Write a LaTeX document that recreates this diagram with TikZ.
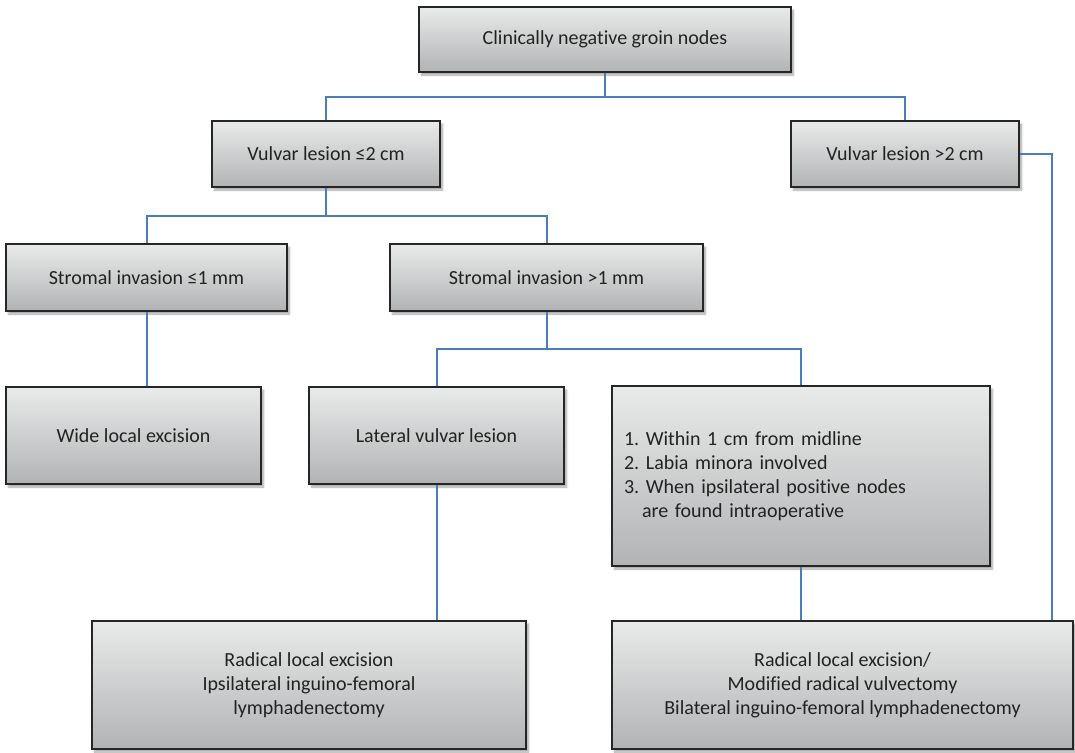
\documentclass[tikz,border=0pt]{standalone}
\usepackage{fontspec}
\setmainfont{Carlito}[Ligatures={NoCommon}]
\usetikzlibrary{shadows.blur}
\definecolor{linkblue}{HTML}{4A7EBB}
\definecolor{boxtop}{HTML}{E9EAEA}
\definecolor{boxbottom}{HTML}{B2B3B4}
\definecolor{boxedge}{HTML}{262626}
\definecolor{textgray}{HTML}{222222}
\tikzset{
  decisionbox/.style={draw=boxedge, line width=2pt, top color=boxtop, bottom color=boxbottom,
    shading angle=0, inner sep=0pt, align=center, text=textgray,
    font=\fontsize{20}{24}\selectfont,
    blur shadow={shadow xshift=2.5pt, shadow yshift=-3pt, shadow opacity=35, shadow blur steps=6}},
  link/.style={draw=linkblue, line width=2pt}
}
\frenchspacing
\begin{document}
\begin{tikzpicture}[x=1pt, y=-1pt]
\useasboundingbox (0,0) rectangle (1075,752);

% decision boxes, placed by centre with explicit sizes
\node[decisionbox, minimum width=372pt, minimum height=65pt] (top) at (605,39.5) {Clinically negative groin nodes};
\node[decisionbox, minimum width=228pt, minimum height=66pt] (small) at (326,154) {Vulvar lesion ≤2 cm};
\node[decisionbox, minimum width=228pt, minimum height=66pt] (large) at (905,154) {Vulvar lesion >2 cm};
\node[decisionbox, minimum width=281pt, minimum height=67pt] (shallow) at (146.5,277.5) {Stromal invasion ≤1 mm};
\node[decisionbox, minimum width=313pt, minimum height=67pt] (deep) at (546.5,277.5) {Stromal invasion >1 mm};
\node[decisionbox, minimum width=255pt, minimum height=97pt] (wide) at (133.5,435.5) {Wide local excision};
\node[decisionbox, minimum width=255pt, minimum height=97pt] (lateral) at (436.5,435.5) {Lateral vulvar lesion};
\node[decisionbox, text width=354pt, inner xsep=12pt, minimum height=180pt, align=left] (midline) at (801,476)
  {1. Within 1 cm from midline\\
   2. Labia minora involved\\
   3. When ipsilateral positive nodes\\
   \hspace*{18pt}are found intraoperative};
\node[decisionbox, minimum width=434pt, minimum height=128pt] (ipsi) at (309,685)
  {Radical local excision\\Ipsilateral inguino-femoral\\lymphadenectomy};
\node[decisionbox, minimum width=461pt, minimum height=128pt] (bilat) at (842.5,685)
  {Radical local excision/\\Modified radical vulvectomy\\Bilateral inguino-femoral lymphadenectomy};

% heights of the horizontal branch lines and the right-hand riser
\coordinate (bus1) at (0,97);
\coordinate (bus2) at (0,216);
\coordinate (bus3) at (0,349);
\coordinate (riser) at (1052,0);

% connectors
\draw[link] (top.south) -- (top.south |- bus1) -| (small.north);
\draw[link] (top.south |- bus1) -| (large.north);
\draw[link] (small.south) -- (small.south |- bus2) -| (shallow.north);
\draw[link] (small.south |- bus2) -| (deep.north);
\draw[link] (shallow.south) -- (shallow.south |- wide.north);
\draw[link] (deep.south) -- (deep.south |- bus3) -| (lateral.north);
\draw[link] (deep.south |- bus3) -| (midline.north);
\draw[link] (lateral.south) -- (lateral.south |- ipsi.north);
\draw[link] (midline.south) -- (midline.south |- bilat.north);
\draw[link] (large.east) -| (riser |- bilat.north);
\end{tikzpicture}
\end{document}
